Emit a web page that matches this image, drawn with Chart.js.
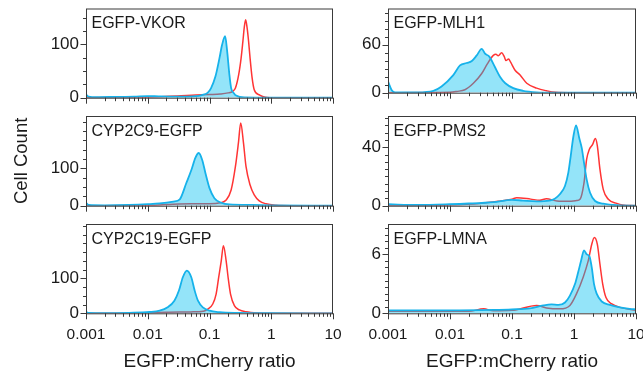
<!DOCTYPE html>
<html>
<head>
<meta charset="utf-8">
<script src="https://cdn.jsdelivr.net/npm/chart.js@4.4.1/dist/chart.umd.min.js"></script>
<style>
  body { margin: 0; background: #fff; }
  #wrap { position: relative; width: 643px; height: 377px; }
  #wrap canvas { position: absolute; left: 0; top: 0; }
</style>
</head>
<body>
<div id="wrap">
  <canvas id="p0" width="643" height="377"></canvas>
  <canvas id="p1" width="643" height="377"></canvas>
  <canvas id="p2" width="643" height="377"></canvas>
  <canvas id="p3" width="643" height="377"></canvas>
  <canvas id="p4" width="643" height="377"></canvas>
  <canvas id="p5" width="643" height="377"></canvas>
</div>
<script>
const panelNames = ['EGFP-VKOR', 'EGFP-MLH1', 'CYP2C9-EGFP', 'EGFP-PMS2', 'CYP2C19-EGFP', 'EGFP-LMNA'];
const xTicks = [0.001, 0.01, 0.1, 1, 10];
const yTicks = [[0, 100], [0, 60], [0, 100], [0, 40], [0, 100], [0, 6]];
const yMax = [167, 105, 240, 61.4, 255, 9.08];

// [EGFP:mCherry ratio, cell count]
const vkorGreen = [[0.001, 6], [0.0011, 2], [0.0015, 1], [0.003, 1.5], [0.006, 2], [0.01, 3], [0.015, 2.5], [0.03, 2],
  [0.06, 3], [0.075, 5], [0.093, 9], [0.106, 18], [0.125, 40], [0.145, 74], [0.16, 99], [0.179, 115], [0.192, 90],
  [0.21, 43], [0.224, 18], [0.25, 8], [0.27, 4], [0.37, 0.5], [1, 0], [10, 0]];
const vkorRed = [[0.001, 0], [0.01, 1], [0.03, 3], [0.06, 5], [0.1, 6], [0.15, 7], [0.2, 9], [0.238, 12], [0.263, 18],
  [0.297, 43], [0.325, 74], [0.347, 105], [0.366, 132], [0.385, 146], [0.405, 132], [0.43, 105], [0.454, 74],
  [0.49, 37], [0.53, 15], [0.65, 5], [0.8, 1], [1.2, 0], [10, 0]];

const mlh1Green = [[0.001, 14], [0.00115, 3], [0.0013, 0.5], [0.003, 0.5], [0.0054, 2.4], [0.0073, 7.8], [0.0113, 22],
  [0.0145, 34], [0.0185, 37], [0.0225, 39.5], [0.027, 46.5], [0.0325, 54.7], [0.0367, 48.6], [0.043, 45], [0.053, 32],
  [0.064, 20], [0.078, 11.8], [0.105, 5.7], [0.15, 2.4], [0.25, 0.5], [0.5, 0], [10, 0]];
const mlh1Red = [[0.001, 0], [0.01, 0.5], [0.0129, 1.6], [0.0174, 3.7], [0.0238, 11.8], [0.0325, 24], [0.04, 36],
  [0.05, 46.5], [0.055, 48], [0.06, 46], [0.068, 49.8], [0.075, 45], [0.08, 40], [0.088, 42], [0.095, 38],
  [0.112, 28], [0.135, 22], [0.173, 11.8], [0.25, 5.7], [0.36, 2.4], [0.5, 0.5], [1, 0], [10, 0]];

const cyp2c9Green = [[0.001, 8], [0.0011, 2], [0.002, 1], [0.005, 2], [0.01, 4], [0.0156, 6], [0.026, 11], [0.033, 17],
  [0.042, 60], [0.051, 96], [0.059, 128], [0.067, 141], [0.076, 123], [0.086, 87], [0.1, 47], [0.12, 20],
  [0.155, 8], [0.21, 3.5], [0.5, 2], [1, 1], [10, 0]];
const cyp2c9Red = [[0.001, 0], [0.01, 1], [0.02, 3], [0.05, 5], [0.1, 5], [0.15, 8], [0.186, 15], [0.224, 42],
  [0.263, 105], [0.294, 168], [0.32, 221], [0.355, 168], [0.39, 105], [0.453, 56], [0.53, 29], [0.64, 13],
  [0.82, 5], [1.2, 1], [2, 0], [10, 0]];

const pms2Green = [[0.001, 1], [0.003, 0.5], [0.01, 1], [0.02, 1.5], [0.05, 2.5], [0.1, 4], [0.15, 3.5], [0.25, 3],
  [0.4, 3.5], [0.49, 4.8], [0.59, 7.8], [0.715, 13.5], [0.81, 22.6], [0.885, 34], [0.98, 47.7], [1.08, 55],
  [1.22, 46], [1.33, 39.7], [1.45, 29.5], [1.6, 18], [1.81, 9], [2.19, 3.2], [2.97, 1.4], [5, 0.3], [10, 0]];
const pms2Red = [[0.001, 0], [0.01, 0.5], [0.03, 1.5], [0.06, 3], [0.1, 4.5], [0.119, 5.5], [0.2, 4.5], [0.28, 3.7],
  [0.36, 4.8], [0.53, 3.2], [0.8, 3], [1.1, 3.5], [1.25, 4.4], [1.45, 15.7], [1.6, 31.8], [1.77, 38.6], [2.0, 42],
  [2.21, 46], [2.38, 41], [2.62, 25], [2.97, 11], [3.58, 4.4], [4.9, 1.6], [6, 0.5], [10, 0]];

const cyp2c19Green = [[0.001, 4], [0.0011, 1], [0.002, 0.5], [0.005, 1.5], [0.0107, 3.7], [0.0156, 7.4], [0.021, 17],
  [0.027, 36], [0.032, 65], [0.037, 103], [0.043, 122], [0.0507, 103], [0.0575, 65], [0.065, 36], [0.078, 17],
  [0.1, 7.4], [0.145, 3], [0.3, 1], [1, 0.3], [10, 0]];
const cyp2c19Red = [[0.001, 0], [0.01, 1], [0.02, 3], [0.05, 4], [0.08, 6], [0.094, 12], [0.113, 26.6], [0.128, 55],
  [0.141, 103], [0.155, 150], [0.168, 193], [0.186, 150], [0.2, 103], [0.219, 55], [0.253, 22], [0.305, 9.5],
  [0.39, 4.5], [0.6, 1], [1, 0], [10, 0]];

const lmnaGreen = [[0.001, 0.3], [0.01, 0.3], [0.05, 0.35], [0.1, 0.4], [0.195, 0.5], [0.32, 0.8], [0.435, 0.9],
  [0.56, 0.85], [0.716, 1.1], [0.86, 1.8], [1.04, 3.0], [1.17, 4.2], [1.3, 5.35], [1.45, 6.4], [1.6, 6.0],
  [1.77, 5.8], [1.93, 4.7], [2.1, 3.0], [2.32, 2.0], [2.8, 1.2], [3.8, 0.85], [5.5, 0.6], [7.9, 0.45], [10, 0.4]];
const lmnaRed = [[0.001, 0.2], [0.02, 0.2], [0.035, 0.45], [0.05, 0.25], [0.1, 0.3], [0.25, 0.8], [0.36, 0.55],
  [0.59, 0.45], [0.86, 0.8], [1.1, 2.0], [1.41, 3.7], [1.7, 5.35], [1.93, 7.0], [2.13, 7.7], [2.38, 7.0],
  [2.62, 5.0], [2.9, 3.0], [3.28, 1.6], [4.07, 0.95], [5.5, 0.6], [10, 0.3]];

const greenSeries = [vkorGreen, mlh1Green, cyp2c9Green, pms2Green, cyp2c19Green, lmnaGreen];
const redSeries = [vkorRed, mlh1Red, cyp2c9Red, pms2Red, cyp2c19Red, lmnaRed];

// plot area of each panel in page pixels
const boxes = [
  { l: 86, r: 333, t: 8.5, b: 97.7 },
  { l: 388, r: 636, t: 8.5, b: 92.7 },
  { l: 86, r: 333, t: 116, b: 205.7 },
  { l: 388, r: 636, t: 116, b: 205.7 },
  { l: 86, r: 333, t: 224, b: 313.3 },
  { l: 388, r: 636, t: 224, b: 313.3 }
];
const yMinorStep = [25, 10, 25, 5, 25, 2 / 3];

const FONT = '"Liberation Sans", Arial, sans-serif';
const INK = '#1a1a1a';

const framePlugin = {
  id: 'frame',
  afterDatasetsDraw(chart, args, opts) {
    const { ctx, chartArea: a } = chart;
    const x = chart.scales.x, y = chart.scales.y;
    ctx.save();
    ctx.strokeStyle = '#3a3a3a';
    ctx.lineWidth = 1;
    ctx.strokeRect(a.left + 0.5, a.top + 0.5, a.right - a.left - 1, a.bottom - a.top);
    ctx.beginPath();
    for (let e = -3; e <= 1; e++) {
      for (let m = 1; m <= 9; m++) {
        const v = m * Math.pow(10, e);
        if (v > 10.0001) break;
        const px = Math.round(x.getPixelForValue(v)) + 0.5;
        ctx.moveTo(px, a.bottom);
        ctx.lineTo(px, a.bottom + (m === 1 ? 6 : 3.5));
      }
    }
    for (let k = 0; k * opts.minor <= y.max + 1e-9; k++) {
      const py = Math.round(y.getPixelForValue(k * opts.minor)) + 0.5;
      ctx.moveTo(a.left, py);
      ctx.lineTo(a.left - 3, py);
    }
    opts.major.forEach(v => {
      const py = Math.round(y.getPixelForValue(v)) + 0.5;
      ctx.moveTo(a.left, py);
      ctx.lineTo(a.left - 5.5, py);
    });
    ctx.stroke();
    ctx.fillStyle = INK;
    ctx.font = '16px ' + FONT;
    ctx.fillText(opts.name, a.left + 5.5, a.top + 19.5);
    ctx.restore();
  }
};

const toXY = pts => pts.map(p => ({ x: p[0], y: p[1] }));

panelNames.forEach((name, i) => {
  const box = boxes[i];
  const bottomRow = i >= 4;
  new Chart(document.getElementById('p' + i), {
    type: 'line',
    data: {
      datasets: [
        {
          data: toXY(greenSeries[i]),
          borderColor: '#16B2EA',
          backgroundColor: 'rgba(0,190,240,0.42)',
          borderWidth: 1.8,
          fill: 'origin'
        },
        {
          data: toXY(redSeries[i]),
          borderColor: '#FF3434',
          borderWidth: 1.5,
          fill: false
        }
      ]
    },
    options: {
      responsive: false,
      animation: false,
      events: [],
      layout: { padding: { left: 0, top: box.t, right: 643 - box.r, bottom: bottomRow ? 0 : 377 - box.b } },
      elements: { point: { radius: 0 }, line: { cubicInterpolationMode: 'monotone' } },
      plugins: {
        legend: { display: false },
        tooltip: { enabled: false },
        frame: { name: name, major: yTicks[i], minor: yMinorStep[i] }
      },
      scales: {
        x: {
          type: 'logarithmic',
          min: 0.001,
          max: 10,
          grid: { display: false, drawTicks: false },
          border: { display: false },
          afterBuildTicks: s => { s.ticks = xTicks.map(v => ({ value: v })); },
          afterFit: s => {
            s.height = bottomRow ? 377 - box.b : 0;
            s.paddingLeft = 0; s.paddingRight = 0;
          },
          ticks: {
            display: bottomRow,
            autoSkip: false,
            maxRotation: 0,
            padding: 12,
            color: INK,
            font: { family: FONT, size: 15.5 },
            callback: v => String(v)
          },
          title: {
            display: bottomRow,
            text: 'EGFP:mCherry ratio',
            color: INK,
            padding: { top: 0, bottom: 4 },
            font: { family: FONT, size: 19 }
          }
        },
        y: {
          min: 0,
          max: yMax[i],
          grid: { display: false, drawTicks: false },
          border: { display: false },
          afterBuildTicks: s => { s.ticks = yTicks[i].map(v => ({ value: v })); },
          afterFit: s => {
            s.width = box.l;
            s.paddingTop = 0; s.paddingBottom = 0;
          },
          ticks: {
            padding: 7,
            color: INK,
            font: { family: FONT, size: 17 }
          },
          title: {
            display: i === 2,
            text: 'Cell Count',
            color: INK,
            padding: { top: 11, bottom: 0 },
            font: { family: FONT, size: 18.5 }
          }
        }
      }
    },
    plugins: [framePlugin]
  });
});
</script>
</body>
</html>
